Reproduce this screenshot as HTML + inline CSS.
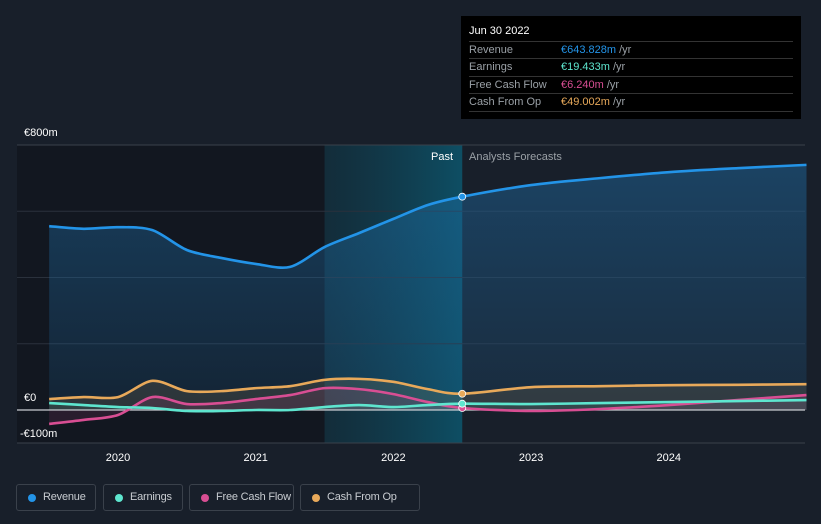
<!DOCTYPE html>
<html><head><meta charset="utf-8"><style>
body{margin:0;background:#181f2a;font-family:"Liberation Sans",sans-serif;}
#wrap{position:relative;width:821px;height:524px;overflow:hidden;background:#181f2a}
.tt{position:absolute;left:461px;top:16px;width:340px;height:103px;background:#000;color:#fff;font-size:11px}
.tt .h{position:absolute;left:8px;top:9px;font-size:11px}
.tt .r{position:absolute;left:8px;width:324px;border-top:1px solid #333;height:17px;line-height:17px;color:#9aa0a6}
.tt .r span.v{position:absolute;left:92px}
.leg{position:absolute;top:484px;height:27px;border:1px solid #3a414b;border-radius:3px;color:#c8ccd1;font-size:11px;line-height:25px;box-sizing:border-box;padding-left:26px;white-space:nowrap;overflow:hidden;letter-spacing:-0.2px}
.leg i{position:absolute;left:11px;top:9px;width:8px;height:8px;border-radius:50%}
</style></head><body>
<div id="wrap">
<svg id="svg" width="821" height="524" style="position:absolute;left:0;top:0"></svg>
<div class="tt">
<div class="h">Jun 30 2022</div>
<div class="r" style="top:25px">Revenue<span class="v" style="color:#2394e8">€643.828m <span style="color:#9aa0a6">/yr</span></span></div>
<div class="r" style="top:42px">Earnings<span class="v" style="color:#5ee6cf">€19.433m <span style="color:#9aa0a6">/yr</span></span></div>
<div class="r" style="top:60px">Free Cash Flow<span class="v" style="color:#d84e93">€6.240m <span style="color:#9aa0a6">/yr</span></span></div>
<div class="r" style="top:77px;border-bottom:1px solid #333">Cash From Op<span class="v" style="color:#e8a95a">€49.002m <span style="color:#9aa0a6">/yr</span></span></div>
</div>
<div class="leg" style="left:16px;width:80px"><i style="background:#2394e8"></i>Revenue</div>
<div class="leg" style="left:103px;width:80px"><i style="background:#5ee6cf"></i>Earnings</div>
<div class="leg" style="left:189px;width:105px"><i style="background:#d84e93"></i>Free Cash Flow</div>
<div class="leg" style="left:300px;width:120px"><i style="background:#e8a95a"></i>Cash From Op</div>
</div>
<script>
const years=[2019.5,2019.75,2020,2020.25,2020.5,2020.75,2021,2021.25,2021.5,2021.75,2022,2022.25,2022.5,2023,2023.5,2024,2024.5,2025];
const revenue=[555,547,552,543,483,459,441,432,492,534,577,619,644,679,700,718,730,740];
const cashFromOp=[33,39,39,88,57,57,66,72,91,94,85,63,49,69,72,75,76,78];
const earnings=[21,15,9,6,-3,-3,0,0,9,15,9,15,19,18,21,24,27,30];
const freeCashFlow=[-42,-30,-15,39,18,21,33,45,66,63,48,24,6,-3,3,15,30,45];
const yTicks=[800,0,-100];
const yTickLabels=["€800m","€0","-€100m"];
const xTicks=[2020,2021,2022,2023,2024];
const gridVals=[800,600,400,200,0];
const X=v=>118+(v-2020)*137.7;
const Y=v=>410-v*0.33125;
const svg=document.getElementById('svg');
const NS='http://www.w3.org/2000/svg';
function el(t,a,p){const e=document.createElementNS(NS,t);for(const k in a)e.setAttribute(k,a[k]);(p||svg).appendChild(e);return e;}
const defs=el('defs',{});
defs.innerHTML='<linearGradient id="hl" x1="0" x2="1"><stop offset="0" stop-color="#0e3a4a" stop-opacity="0.5"/><stop offset="1" stop-color="#0b5a72" stop-opacity="0.8"/></linearGradient><linearGradient id="rf" x1="0" y1="0" x2="0" y2="1"><stop offset="0" stop-color="#1f6ea8" stop-opacity="0.45"/><stop offset="1" stop-color="#1f6ea8" stop-opacity="0.15"/></linearGradient>';
const past=el('rect',{x:17,y:145,width:X(2021.5)-17,height:Y(-100)-145,fill:'#121720'});

const hl=el('rect',{x:X(2021.5),y:145,width:X(2022.5)-X(2021.5),height:Y(-100)-145,fill:'url(#hl)'});

gridVals.forEach(v=>{const g=el('line',{x1:17,x2:805,y1:Y(v),y2:Y(v),stroke:v==800?'#3a414b':'#2a313c','stroke-width':1});
});
function path(vals){let pts=years.map((y,i)=>[X(y),Y(vals[i])]);let d='M'+pts[0][0]+','+pts[0][1];
for(let i=0;i<pts.length-1;i++){const p0=pts[i-1]||pts[i],p1=pts[i],p2=pts[i+1],p3=pts[i+2]||p2;const t=0.15;
d+=` C${p1[0]+(p2[0]-p0[0])*t},${p1[1]+(p2[1]-p0[1])*t} ${p2[0]-(p3[0]-p1[0])*t},${p2[1]-(p3[1]-p1[1])*t} ${p2[0]},${p2[1]}`;}return d;}
const series=[[revenue,'#2394e8','revenue','url(#rf)'],[cashFromOp,'#e8a95a','cash-from-op','rgba(232,169,90,0.12)'],[freeCashFlow,'#d84e93','free-cash-flow','rgba(216,78,147,0.12)'],[earnings,'#5ee6cf','earnings','rgba(94,230,207,0.08)']];
series.forEach(([v,c,n,f])=>{const d=path(v);const a=el('path',{d:d+` L${X(2025)},${Y(0)} L${X(2019.5)},${Y(0)} Z`,fill:f});
});
el('line',{x1:17,x2:805,y1:Y(0),y2:Y(0),stroke:'#c8ccd1','stroke-width':1.2});
series.forEach(([v,c,n])=>{const l=el('path',{d:path(v),fill:'none',stroke:c,'stroke-width':2.6});

const i=years.indexOf(2022.5);const m=el('circle',{cx:X(2022.5),cy:Y(v[i]),r:3.5,fill:c,stroke:'#fff','stroke-width':0.8});
});
el('line',{x1:17,x2:805,y1:443,y2:443,stroke:'#3a414b'});
yTicks.forEach((v,i)=>{const t=el('text',{x:i==2?20:24,y:i==2?437:Y(v)-9,fill:'#fff','font-size':11});t.textContent=yTickLabels[i];
});
xTicks.forEach(v=>{const t=el('text',{x:X(v),y:461,fill:'#fff','font-size':11,'text-anchor':'middle'});t.textContent=v;
});
const p=el('text',{x:453,y:160,fill:'#fff','font-size':11,'text-anchor':'end'});p.textContent='Past';

const f=el('text',{x:469,y:160,fill:'#9aa0a6','font-size':11});f.textContent='Analysts Forecasts';

</script>
</body></html>
